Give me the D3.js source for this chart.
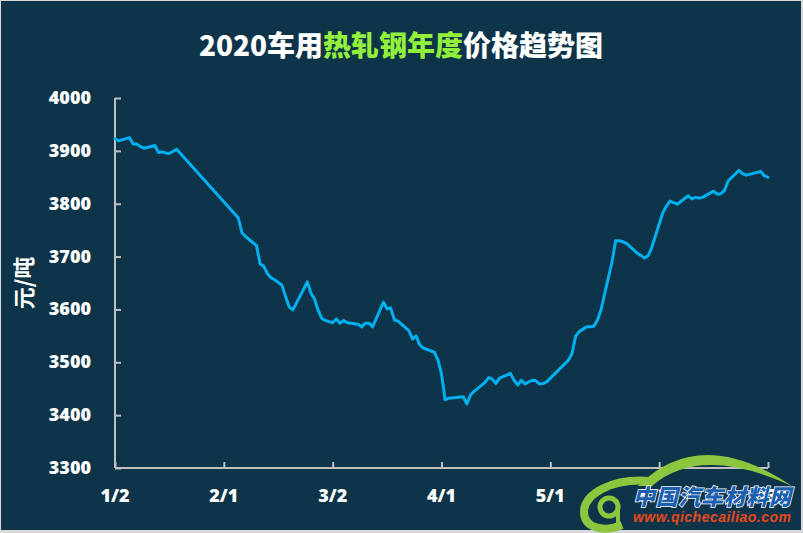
<!DOCTYPE html>
<html>
<head>
<meta charset="utf-8">
<script src="https://cdn.jsdelivr.net/npm/d3@7/dist/d3.min.js"></script>
<style>
  body { margin: 0; background: #ffffff; }
  svg { display: block; }
</style>
</head>
<body>
<div id="chart"></div>
<script>
// daily hot-rolled steel price, 2020
const dates = [
  "2020-01-02","2020-01-03","2020-01-06","2020-01-07","2020-01-08","2020-01-09","2020-01-10",
  "2020-01-13","2020-01-14","2020-01-15","2020-01-16","2020-01-17","2020-01-19",
  "2020-02-05","2020-02-06","2020-02-07","2020-02-10","2020-02-11","2020-02-12","2020-02-13",
  "2020-02-14","2020-02-15","2020-02-17","2020-02-18","2020-02-19","2020-02-20","2020-02-21",
  "2020-02-24","2020-02-25","2020-02-26","2020-02-27","2020-02-28","2020-02-29",
  "2020-03-02","2020-03-03","2020-03-04","2020-03-05","2020-03-06","2020-03-09","2020-03-10",
  "2020-03-11","2020-03-12","2020-03-13","2020-03-16","2020-03-17","2020-03-18","2020-03-19",
  "2020-03-20","2020-03-23","2020-03-24","2020-03-25","2020-03-26","2020-03-27","2020-03-30",
  "2020-03-31","2020-04-01","2020-04-02","2020-04-03","2020-04-07","2020-04-08","2020-04-09",
  "2020-04-10","2020-04-13","2020-04-14","2020-04-15","2020-04-16","2020-04-17","2020-04-20",
  "2020-04-21","2020-04-22","2020-04-23","2020-04-24","2020-04-26","2020-04-27","2020-04-28",
  "2020-04-29","2020-04-30","2020-05-06","2020-05-07","2020-05-08","2020-05-09","2020-05-11",
  "2020-05-12","2020-05-13","2020-05-14","2020-05-15","2020-05-18","2020-05-19","2020-05-20",
  "2020-05-21","2020-05-22","2020-05-25","2020-05-26","2020-05-27","2020-05-28","2020-05-29",
  "2020-06-01","2020-06-02","2020-06-03","2020-06-04","2020-06-05","2020-06-08","2020-06-09",
  "2020-06-10","2020-06-11","2020-06-12","2020-06-15","2020-06-16","2020-06-17","2020-06-18",
  "2020-06-19","2020-06-22","2020-06-23","2020-06-24","2020-06-28","2020-06-29","2020-06-30"
];
const prices = [
  3923, 3919, 3925, 3913, 3913, 3908, 3905,
  3910, 3897, 3898, 3896, 3895, 3903,
  3773, 3745, 3738, 3721, 3686, 3682, 3668,
  3660, 3656, 3646, 3625, 3605, 3599, 3612,
  3652, 3631, 3620, 3598, 3583, 3579,
  3575, 3582, 3574, 3579, 3575, 3572, 3567,
  3574, 3574, 3567, 3614, 3601, 3603, 3580,
  3578, 3560, 3544, 3550, 3533, 3527, 3519,
  3505, 3478, 3429, 3432, 3435, 3421, 3438,
  3445, 3462, 3471, 3468, 3460, 3470, 3479,
  3466, 3457, 3466, 3459, 3466, 3465, 3459,
  3460, 3463, 3504, 3517, 3550, 3558, 3567,
  3567, 3568, 3580, 3600, 3690, 3730, 3730,
  3728, 3725, 3706, 3702, 3697, 3702, 3718,
  3783, 3795, 3805, 3802, 3799, 3815, 3809,
  3812, 3811, 3812, 3824, 3818, 3819, 3825,
  3843, 3863, 3857, 3854, 3861, 3853, 3850
];

// axis ticks
const tickDates = ["2020-01-02","2020-02-01","2020-03-02","2020-04-01","2020-05-01","2020-05-31","2020-06-30"];
const tickLabels = ["1/2","2/1","3/2","4/1","5/1","5/31","6/30"];
const yTicks = [3300, 3400, 3500, 3600, 3700, 3800, 3900, 4000];

const width = 803, height = 533;
const parse = d3.timeParse("%Y-%m-%d");
const data = dates.map((d, i) => ({ date: parse(d), value: prices[i] }));

const svg = d3.select("#chart").append("svg")
    .attr("width", width)
    .attr("height", height);

// background + thin frame
svg.append("rect")
    .attr("x", 0).attr("y", 0)
    .attr("width", width).attr("height", height)
    .attr("fill", "#d9d9d9");
svg.append("rect")
    .attr("x", 1).attr("y", 1)
    .attr("width", width - 3).attr("height", height - 4)
    .attr("fill", "#0e3449");

// scales
let x = d3.scaleTime()
    .domain([parse(tickDates[0]), parse(tickDates[tickDates.length - 1])])
    .range([115, 768]);
let y = d3.scaleLinear()
    .domain([3300, 4000])
    .range([468, 98]);

// title, the middle part in green
let title = svg.append("text")
    .attr("x", 401).attr("y", 56)
    .attr("text-anchor", "middle")
    .style("font-family", "'Noto Sans CJK SC', 'Open Sans', sans-serif")
    .style("font-weight", "900")
    .style("font-size", "28px")
    .attr("fill", "#ffffff");
title.append("tspan").text("2020车用");
title.append("tspan").attr("fill", "#92ef3c").text("热轧钢年度");
title.append("tspan").text("价格趋势图");

// y axis
let yAxis = svg.append("g")
    .attr("transform", "translate(115,0)")
    .call(d3.axisRight(y).tickValues(yTicks).tickSize(6).tickFormat(""));
yAxis.select(".domain").attr("d", "M0,98V468");
yAxis.selectAll("line, path").attr("stroke", "#bfbfbf").attr("stroke-width", 2);

svg.selectAll(".ylab")
    .data(yTicks).enter().append("text")
    .attr("class", "ylab")
    .attr("x", 91)
    .attr("y", d => y(d) + 6)
    .attr("text-anchor", "end")
    .style("font-family", "'Open Sans', sans-serif")
    .style("font-weight", "800")
    .style("font-size", "18px")
    .attr("fill", "#ffffff")
    .text(d => d);

// x axis
let xAxis = svg.append("g")
    .attr("transform", "translate(0,468)")
    .call(d3.axisTop(x).tickValues(tickDates.map(parse)).tickSize(6).tickFormat(""));
xAxis.select(".domain").attr("d", "M115,0H768");
xAxis.selectAll("line, path").attr("stroke", "#bfbfbf").attr("stroke-width", 2);

svg.selectAll(".xlab")
    .data(tickDates).enter().append("text")
    .attr("class", "xlab")
    .attr("x", d => x(parse(d)))
    .attr("y", 502)
    .attr("text-anchor", "middle")
    .style("font-family", "'Open Sans', sans-serif")
    .style("font-weight", "800")
    .style("font-size", "18px")
    .attr("fill", "#ffffff")
    .text((d, i) => tickLabels[i]);

// unit label
svg.append("text")
    .attr("transform", "translate(32,283) rotate(-90)")
    .attr("text-anchor", "middle")
    .style("font-family", "'Noto Sans CJK SC', sans-serif")
    .style("font-weight", "bold")
    .style("font-size", "22px")
    .attr("fill", "#ffffff")
    .text("元/吨");

// price line
let line = d3.line()
    .x(d => x(d.date))
    .y(d => y(d.value));

svg.append("path")
    .datum(data)
    .attr("d", line)
    .attr("fill", "none")
    .attr("stroke", "#00b0f0")
    .attr("stroke-width", 3)
    .attr("stroke-linejoin", "round")
    .attr("stroke-linecap", "round");

// watermark (rough)
let wm = svg.append("g");
wm.append("path")
    .attr("d", "M638,486 Q700,424 792,486 Q700,444 652,486 Z")
    .attr("fill", "#8cc63f");
wm.append("path")
    .attr("d", "M650,481 C612,478 584,494 584,512 C584,527 602,533 622,525")
    .attr("fill", "none")
    .attr("stroke", "#8cc63f")
    .attr("stroke-width", 8);
wm.append("circle")
    .attr("cx", 609).attr("cy", 507).attr("r", 9)
    .attr("fill", "none")
    .attr("stroke", "#8cc63f")
    .attr("stroke-width", 5);
wm.append("path")
    .attr("d", "M618,507 V524")
    .attr("stroke", "#8cc63f")
    .attr("stroke-width", 4);
wm.append("text")
    .attr("x", 633).attr("y", 505)
    .attr("textLength", 158)
    .style("font-family", "'Noto Sans CJK SC', sans-serif")
    .style("font-weight", "900")
    .style("font-style", "italic")
    .style("font-size", "22px")
    .attr("fill", "#1b5fb0")
    .attr("stroke", "#ffffff")
    .attr("stroke-width", 1.5)
    .style("paint-order", "stroke")
    .text("中国汽车材料网");
wm.append("text")
    .attr("x", 633).attr("y", 522)
    .attr("textLength", 158)
    .style("font-family", "'Liberation Sans', sans-serif")
    .style("font-weight", "bold")
    .style("font-style", "italic")
    .style("font-size", "14px")
    .attr("fill", "#e8491d")
    .text("www.qichecailiao.com");
</script>
</body>
</html>
